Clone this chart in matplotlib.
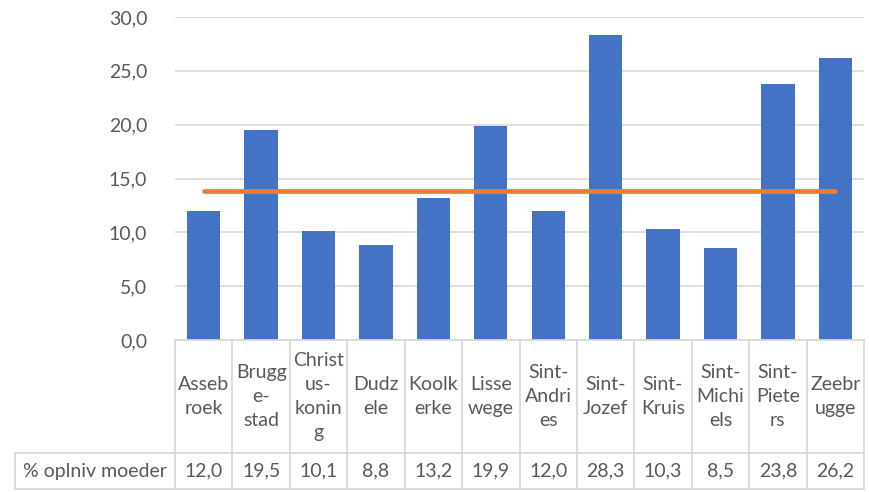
import matplotlib
matplotlib.use("Agg")
import matplotlib.pyplot as plt
import matplotlib.transforms as mtransforms

categories = ["Asseb\nroek", "Brugg\ne-\nstad", "Christ\nus-\nkonin\ng", "Dudz\nele",
              "Koolk\nerke", "Lisse\nwege", "Sint-\nAndri\nes", "Sint-\nJozef",
              "Sint-\nKruis", "Sint-\nMichi\nels", "Sint-\nPiete\nrs", "Zeebr\nugge"]
values = [12.0, 19.5, 10.1, 8.8, 13.2, 19.9, 12.0, 28.3, 10.3, 8.5, 23.8, 26.2]
reference = [13.8] * len(categories)
row_label = "% oplniv moeder"
yticks = [0, 5, 10, 15, 20, 25, 30]

plt.rcParams['font.family'] = ['Lato', 'DejaVu Sans']
TXT = '#595959'
GRID = '#D9D9D9'
FS = 14

W, H = 870, 492
fig = plt.figure(figsize=(W / 100, H / 100), dpi=100)
left, right, bottom, top = 175, 864, 340, 17
ax = fig.add_axes([left / W, 1 - bottom / H, (right - left) / W, (bottom - top) / H])

n = len(categories)
x = list(range(n))
ax.bar(x, values, width=0.58, color='#4472C4', zorder=2)
ax.plot(x, reference, color='#ED7D31', lw=3.4, solid_capstyle='round', zorder=3)

ax.set_xlim(-0.5, n - 0.5)
ax.set_ylim(0, 30)
ax.set_yticks(yticks)
ax.set_yticklabels([f"{v:.1f}".replace('.', ',') for v in yticks], color=TXT, fontsize=FS)
ax.tick_params(axis='y', length=0, pad=20)
ax.set_xticks([])
ax.grid(axis='y', color=GRID, lw=1.2, zorder=0)
for s in ax.spines.values():
    s.set_visible(False)

# data table
def fy(py):
    return 1 - py / H

trans = mtransforms.blended_transform_factory(ax.transData, fig.transFigure)
tf = fig.transFigure
hdr_top, hdr_bot, row_bot = 340, 453, 489
lc = '#D9D9D9'
lw = 1.3
fig.add_artist(plt.Line2D([left / W, right / W], [fy(hdr_top)] * 2, color=lc, lw=lw, transform=tf))
fig.add_artist(plt.Line2D([15 / W, right / W], [fy(hdr_bot)] * 2, color=lc, lw=lw, transform=tf))
fig.add_artist(plt.Line2D([15 / W, right / W], [fy(row_bot)] * 2, color=lc, lw=lw, transform=tf))
fig.add_artist(plt.Line2D([15 / W, 15 / W], [fy(hdr_bot), fy(row_bot)], color=lc, lw=lw, transform=tf))
for i in range(n + 1):
    xb = i - 0.5
    fig.add_artist(plt.Line2D([xb, xb], [fy(hdr_top), fy(row_bot)], color=lc, lw=lw, transform=trans))

for i, (c, v) in enumerate(zip(categories, values)):
    fig.text(i, fy((hdr_top + hdr_bot) / 2), c, transform=trans, ha='center', va='center',
             fontsize=FS, color=TXT, linespacing=1.48, multialignment='center')
    fig.text(i, fy((hdr_bot + row_bot) / 2), f"{v:.1f}".replace('.', ','), transform=trans,
             ha='center', va='center', fontsize=FS, color=TXT)
fig.text((15 + left) / 2 / W, fy((hdr_bot + row_bot) / 2), row_label, ha='center', va='center',
         fontsize=FS, color=TXT)

fig.savefig('out.png', dpi=100, facecolor='white')
